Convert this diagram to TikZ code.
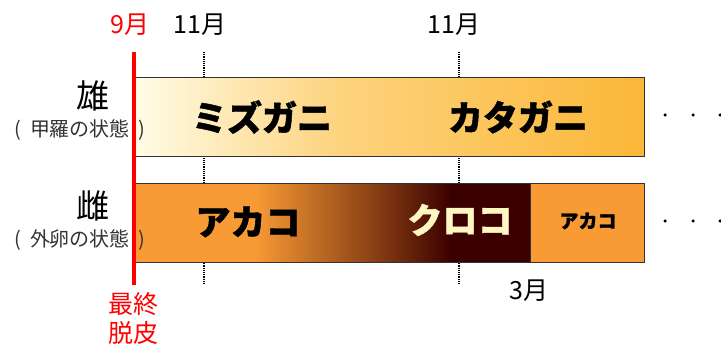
\documentclass[tikz,border=0pt]{standalone}
\usepackage{fontspec}
\newfontfamily\cjk{Noto Sans CJK JP}
\newfontfamily\cjkheavy[BoldFeatures={FakeBold=1.2}]{Noto Sans CJK JP}
\definecolor{cream}{HTML}{FFFCE6}
\definecolor{midgold}{HTML}{FDD37E}
\definecolor{gold}{HTML}{FBB738}
\definecolor{aorange}{HTML}{F99B35}
\definecolor{abrown}{HTML}{8E4415}
\definecolor{adark}{HTML}{3A0000}
\definecolor{kcream}{HTML}{FFF7C2}
\pgfdeclarehorizontalshading{maleshade}{100bp}{color(0bp)=(cream); color(25bp)=(cream); color(45bp)=(midgold); color(75bp)=(gold); color(100bp)=(gold)}
\pgfdeclarehorizontalshading{femshade}{100bp}{color(0bp)=(aorange); color(40bp)=(aorange); color(54.5bp)=(abrown); color(65bp)=(adark); color(100bp)=(adark)}
\tikzset{
  month/.style={font=\cjk\fontsize{25}{28}\selectfont, inner sep=0pt},
  redtxt/.style={font=\cjk\fontsize{25}{28}\selectfont, text=red, inner sep=0pt},
  sex/.style={font=\cjk\fontsize{33}{35}\selectfont, inner sep=0pt},
  sub/.style={font=\cjk\fontsize{20}{22}\selectfont, text=black!80, inner sep=0pt},
  bar/.style={draw=black!80, line width=1.2pt, anchor=north west, inner sep=0pt},
  big/.style={font=\cjkheavy\bfseries\fontsize{35}{38}\selectfont, inner sep=0pt},
  small/.style={font=\cjkheavy\bfseries\fontsize{19}{22}\selectfont, inner sep=0pt},
  tick/.style={densely dotted, line width=1.2pt},
  redline/.style={red, line width=3.5pt},
  dot/.style={circle, fill=black, inner sep=0pt, minimum size=3.5pt}
}
\begin{document}
\begin{tikzpicture}[x=1pt,y=-1pt]
\useasboundingbox (0,0) rectangle (721,344);
% dotted month ticks
\coordinate (t1a) at (204,52); \coordinate (t1b) at (204,285);
\coordinate (t2a) at (459,52); \coordinate (t2b) at (459,285);
\draw[tick] (t1a) -- (t1b);
\draw[tick] (t2a) -- (t2b);
% bars
\node[bar, shading=maleshade, minimum width=510pt, minimum height=79pt] (male) at (134,77) {};
\node[bar, shading=femshade, minimum width=396pt, minimum height=79pt] (fem) at (134,183) {};
\node[bar, fill=aorange, minimum width=114pt, minimum height=79pt] (fem2) at (530,183) {};
% bar texts
\node[big] (mizu) at (262,117) {ミズガニ};
\node[big] (kata) at (518,117) {カタガニ};
\node[big] (aka) at (248,222) {アカコ};
\node[big, text=kcream] (kuro) at (460,220) {クロコ};
\node[small] (aka2) at (588,221) {アカコ};
% months
\node[redtxt] (m9) at (130,25) {9月};
\node[month] (m11a) at (200,25) {11月};
\node[month] (m11b) at (454,25) {11月};
\node[month] (m3) at (529,291) {3月};
% left labels
\node[sex] (osu) at (93,96) {雄};
\node[sub] (osusub) at (80,130) {(\hspace{9pt}甲羅の状態\hspace{9pt})};
\node[sex] (mesu) at (93,206) {雌};
\node[sub] (mesusub) at (80,240) {(\hspace{9pt}外卵の状態\hspace{9pt})};
% final molt
\node[redtxt] (saishu) at (133,304) {最終};
\node[redtxt] (dappi) at (133,333) {脱皮};
% red line
\coordinate (rtop) at (134,52); \coordinate (rbot) at (134,285);
\draw[redline] (rtop) -- (rbot);
% continuation dots
\node[dot] (d1) at (665,115) {};
\node[dot] (d2) at (693,115) {};
\node[dot] (d3) at (720,115) {};
\node[dot] (d4) at (665,221) {};
\node[dot] (d5) at (693,221) {};
\node[dot] (d6) at (720,221) {};
\end{tikzpicture}
\end{document}
